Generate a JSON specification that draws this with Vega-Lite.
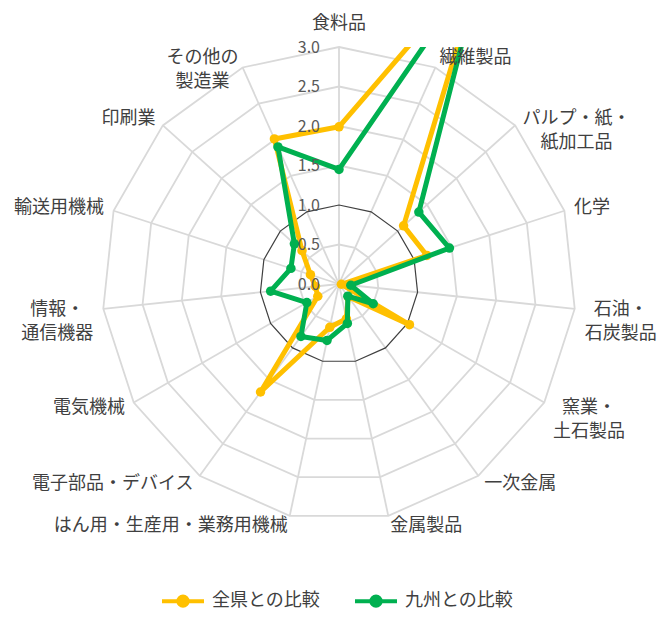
{
  "$schema": "https://vega.github.io/schema/vega-lite/v6.json",
  "width": 662,
  "height": 570,
  "padding": {"top": 47, "left": 0, "right": 0, "bottom": 0},
  "autosize": {"type": "none"},
  "background": "white",
  "config": {"view": {"stroke": null}, "font": "Noto Sans CJK JP"},
  "datasets": {
    "industries": [
      {"category": "食料品", "全県との比較": 1.99, "九州との比較": 1.45},
      {"category": "繊維製品", "全県との比較": 4.5, "九州との比較": 4.5},
      {"category": "パルプ・紙・\n紙加工品", "全県との比較": 1.1, "九州との比較": 1.36},
      {"category": "化学", "全県との比較": 1.17, "九州との比較": 1.47},
      {"category": "石油・\n石炭製品", "全県との比較": 0.03, "九州との比較": 0.15},
      {"category": "窯業・\n土石製品", "全県との比較": 1.03, "九州との比較": 0.5},
      {"category": "一次金属", "全県との比較": 0.2, "九州との比較": 0.19},
      {"category": "金属製品", "全県との比較": 0.45, "九州との比較": 0.51},
      {"category": "はん用・生産用・業務用機械", "全県との比較": 0.56, "九州との比較": 0.73},
      {"category": "電子部品・デバイス", "全県との比較": 1.69, "九州との比較": 0.82},
      {"category": "電気機械", "全県との比較": 0.31, "九州との比較": 0.47},
      {"category": "情報・\n通信機器", "全県との比較": 0.3, "九州との比較": 0.87},
      {"category": "輸送用機械", "全県との比較": 0.38, "九州との比較": 0.64},
      {"category": "印刷業", "全県との比較": 0.63, "九州との比較": 0.76},
      {"category": "その他の\n製造業", "全県との比較": 2.01, "九州との比較": 1.9}
    ],
    "ticks": [
      {"level": 0}, {"level": 0.5}, {"level": 1}, {"level": 1.5},
      {"level": 2}, {"level": 2.5}, {"level": 3}
    ]
  },
  "data": {"name": "industries"},
  "encoding": {
    "x": {"field": "px", "type": "quantitative", "scale": {"domain": [-4.2911, 4.0886], "nice": false, "zero": false}, "axis": null},
    "y": {"field": "py", "type": "quantitative", "scale": {"domain": [-4.2152, 3.0], "nice": false, "zero": false}, "axis": null}
  },
  "layer": [
    {
      "transform": [
        {"window": [{"op": "row_number", "as": "rn"}]},
        {"calculate": "(datum.rn - 1) * 2 * PI / 15", "as": "ang"},
        {"calculate": "0", "as": "px"},
        {"calculate": "0", "as": "py"},
        {"calculate": "3 * sin(datum.ang)", "as": "sx"},
        {"calculate": "3 * cos(datum.ang)", "as": "sy"}
      ],
      "mark": {"type": "rule", "stroke": "#d9d9d9", "strokeWidth": 1.8},
      "encoding": {"x2": {"field": "sx"}, "y2": {"field": "sy"}}
    },
    {
      "transform": [
        {"window": [{"op": "row_number", "as": "rn"}]},
        {"calculate": "(datum.rn - 1) * 2 * PI / 15", "as": "ang"},
        {"calculate": "[0.5, 1, 1.5, 2, 2.5, 3]", "as": "lv"},
        {"flatten": ["lv"]},
        {"filter": "datum.lv != 1"},
        {"calculate": "datum.lv * sin(datum.ang)", "as": "px"},
        {"calculate": "datum.lv * cos(datum.ang)", "as": "py"}
      ],
      "mark": {"type": "line", "interpolate": "linear-closed", "stroke": "#d9d9d9", "strokeWidth": 1.8},
      "encoding": {"detail": {"field": "lv", "type": "nominal"}, "order": {"field": "rn", "type": "quantitative"}}
    },
    {
      "transform": [
        {"window": [{"op": "row_number", "as": "rn"}]},
        {"calculate": "(datum.rn - 1) * 2 * PI / 15", "as": "ang"},
        {"calculate": "sin(datum.ang)", "as": "px"},
        {"calculate": "cos(datum.ang)", "as": "py"}
      ],
      "mark": {"type": "line", "interpolate": "linear-closed", "stroke": "#404040", "strokeWidth": 1.2},
      "encoding": {"order": {"field": "rn", "type": "quantitative"}}
    },
    {
      "transform": [
        {"window": [{"op": "row_number", "as": "rn"}]},
        {"calculate": "(datum.rn - 1) * 2 * PI / 15", "as": "ang"},
        {"fold": ["全県との比較", "九州との比較"], "as": ["series", "value"]},
        {"filter": "datum.series === '全県との比較'"},
        {"calculate": "datum.value * sin(datum.ang)", "as": "px"},
        {"calculate": "datum.value * cos(datum.ang)", "as": "py"}
      ],
      "mark": {"type": "line", "interpolate": "linear-closed", "strokeWidth": 5, "strokeJoin": "round", "strokeCap": "round", "clip": true},
      "encoding": {
        "order": {"field": "rn", "type": "quantitative"},
        "color": {"field": "series", "type": "nominal", "scale": {"domain": ["全県との比較", "九州との比較"], "range": ["#FFC000", "#00B050"]}, "legend": {"orient": "none", "direction": "horizontal", "legendX": 160, "legendY": 531, "title": null, "padding": 0, "symbolType": "M-1,0L1,0M-0.22,0A0.22,0.22,0,1,1,0.22,0A0.22,0.22,0,1,1,-0.22,0Z", "symbolSize": 1764, "symbolStrokeWidth": 4, "labelFontSize": 18, "labelColor": "#404040", "labelFont": "Noto Sans CJK JP", "labelOffset": 6, "columnPadding": 27, "encoding": {"symbols": {"update": {"fill": {"scale": "color", "field": "value"}, "stroke": {"scale": "color", "field": "value"}}}}}}
      }
    },
    {
      "transform": [
        {"window": [{"op": "row_number", "as": "rn"}]},
        {"calculate": "(datum.rn - 1) * 2 * PI / 15", "as": "ang"},
        {"fold": ["全県との比較", "九州との比較"], "as": ["series", "value"]},
        {"filter": "datum.series === '全県との比較'"},
        {"calculate": "datum.value * sin(datum.ang)", "as": "px"},
        {"calculate": "datum.value * cos(datum.ang)", "as": "py"}
      ],
      "mark": {"type": "point", "filled": true, "size": 90, "opacity": 1, "clip": true},
      "encoding": {"color": {"field": "series", "type": "nominal"}}
    },
    {
      "transform": [
        {"window": [{"op": "row_number", "as": "rn"}]},
        {"calculate": "(datum.rn - 1) * 2 * PI / 15", "as": "ang"},
        {"fold": ["全県との比較", "九州との比較"], "as": ["series", "value"]},
        {"filter": "datum.series === '九州との比較'"},
        {"calculate": "datum.value * sin(datum.ang)", "as": "px"},
        {"calculate": "datum.value * cos(datum.ang)", "as": "py"}
      ],
      "mark": {"type": "line", "interpolate": "linear-closed", "strokeWidth": 5, "strokeJoin": "round", "strokeCap": "round", "clip": true},
      "encoding": {
        "order": {"field": "rn", "type": "quantitative"},
        "color": {"field": "series", "type": "nominal"}
      }
    },
    {
      "transform": [
        {"window": [{"op": "row_number", "as": "rn"}]},
        {"calculate": "(datum.rn - 1) * 2 * PI / 15", "as": "ang"},
        {"fold": ["全県との比較", "九州との比較"], "as": ["series", "value"]},
        {"filter": "datum.series === '九州との比較'"},
        {"calculate": "datum.value * sin(datum.ang)", "as": "px"},
        {"calculate": "datum.value * cos(datum.ang)", "as": "py"}
      ],
      "mark": {"type": "point", "filled": true, "size": 90, "opacity": 1, "clip": true},
      "encoding": {"color": {"field": "series", "type": "nominal"}}
    },
    {
      "data": {"name": "ticks"},
      "transform": [
        {"calculate": "0", "as": "px"},
        {"calculate": "datum.level", "as": "py"}
      ],
      "mark": {"type": "text", "align": "right", "baseline": "middle", "dx": -19, "dy": 1, "fontSize": 16, "fill": "#595959"},
      "encoding": {"text": {"field": "level", "type": "quantitative", "format": ".1f"}}
    },
    {
      "transform": [
        {"window": [{"op": "row_number", "as": "rn"}]},
        {"calculate": "(datum.rn - 1) * 2 * PI / 15", "as": "ang"},
        {"calculate": "indexof(datum.category, '\\n')", "as": "nl"},
        {"calculate": "datum.nl < 0 ? length(datum.category) : max(datum.nl, length(datum.category) - datum.nl - 1)", "as": "chars"},
        {"calculate": "datum.rn == 1 ? 0 : (sin(datum.ang) > 0 ? 1 : -1)", "as": "hs"},
        {"calculate": "3.127 * sin(datum.ang) + datum.hs * datum.chars * 18 / 2 / 79", "as": "px"},
        {"calculate": "3.127 * cos(datum.ang) + (datum.rn == 1 ? 13 / 79 : 0)", "as": "py"}
      ],
      "mark": {"type": "text", "align": "center", "baseline": "middle", "lineBreak": "\n", "lineHeight": 24, "fontSize": 18, "fill": "#404040"},
      "encoding": {"text": {"field": "category", "type": "nominal"}}
    }
  ]
}
